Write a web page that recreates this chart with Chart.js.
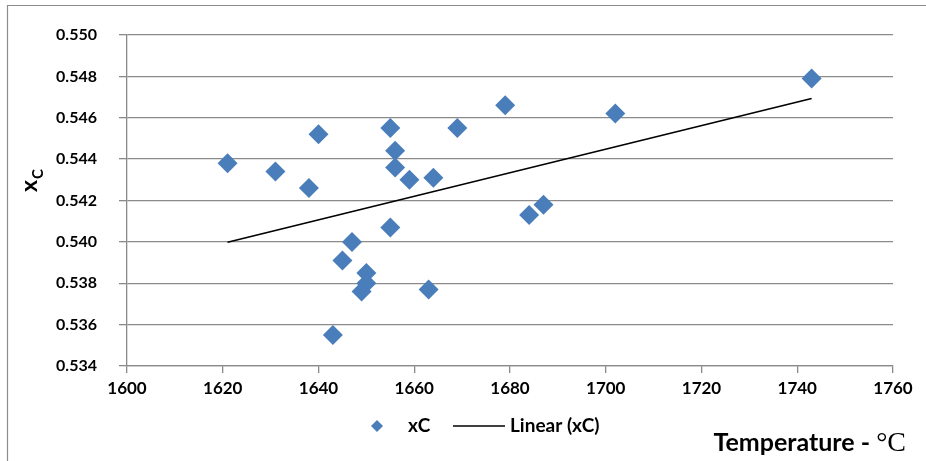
<!DOCTYPE html>
<html>
<head>
<meta charset="utf-8">
<script src="https://cdn.jsdelivr.net/npm/chart.js@4.4.1/dist/chart.umd.min.js"></script>
<style>
  html, body { margin: 0; padding: 0; background: #fff; }
  #wrap { position: relative; width: 926px; height: 461px; }
</style>
</head>
<body>
<div id="wrap"><canvas id="chart" width="926" height="461"></canvas></div>
<script>
const temperatures = [1621, 1631, 1638, 1640, 1643, 1645, 1647, 1649, 1650, 1650, 1655, 1655,
  1656, 1656, 1659, 1663, 1664, 1669, 1679, 1684, 1687, 1702, 1743];
const xcValues = [0.5438, 0.5434, 0.5426, 0.5452, 0.5355, 0.5391, 0.5400, 0.5376, 0.5385, 0.5380, 0.5455, 0.5407,
  0.5444, 0.5436, 0.5430, 0.5377, 0.5431, 0.5455, 0.5466, 0.5413, 0.5418, 0.5462, 0.5479];
const xTicks = [1600, 1620, 1640, 1660, 1680, 1700, 1720, 1740, 1760];
const yTicks = [0.534, 0.536, 0.538, 0.540, 0.542, 0.544, 0.546, 0.548, 0.550];

const BLUE = '#4a7ebb';
const GRID = '#8a8a8a';
const SANS = 'Lato, "Open Sans", sans-serif';
const SERIF = '"Liberation Serif", "DejaVu Serif", serif';

// least squares fit, drawn between the lowest and highest temperature
function linearFit(xs, ys) {
  const n = xs.length;
  const mx = xs.reduce((a, b) => a + b, 0) / n;
  const my = ys.reduce((a, b) => a + b, 0) / n;
  let sxy = 0, sxx = 0;
  for (let i = 0; i < n; i++) {
    sxy += (xs[i] - mx) * (ys[i] - my);
    sxx += (xs[i] - mx) * (xs[i] - mx);
  }
  const slope = sxy / sxx;
  return (x) => my + slope * (x - mx);
}

const fit = linearFit(temperatures, xcValues);
const tMin = Math.min(...temperatures);
const tMax = Math.max(...temperatures);

const decorations = {
  id: 'decorations',
  afterDraw(chart) {
    const ctx = chart.ctx;
    ctx.save();

    // outer frame (top and left edges only are in view)
    ctx.strokeStyle = '#8c8c8c';
    ctx.lineWidth = 1.2;
    ctx.beginPath();
    ctx.moveTo(7.5, 470);
    ctx.lineTo(7.5, 5.5);
    ctx.lineTo(930, 5.5);
    ctx.stroke();

    // y axis title: x with subscript C
    ctx.fillStyle = '#000';
    ctx.translate(37, 192);
    ctx.rotate(-Math.PI / 2);
    ctx.textBaseline = 'alphabetic';
    ctx.textAlign = 'left';
    ctx.font = `bold 23px ${SANS}`;
    ctx.fillText('x', 0, 0);
    const xw = ctx.measureText('x').width;
    ctx.font = `bold 15px ${SANS}`;
    ctx.fillText('C', xw + 1, 6);
    ctx.setTransform(1, 0, 0, 1, 0, 0);

    // x axis title at the bottom right
    ctx.textBaseline = 'alphabetic';
    ctx.textAlign = 'left';
    ctx.font = `28px ${SERIF}`;
    const unit = '\u00b0C';
    const uw = ctx.measureText(unit).width;
    ctx.font = `bold 25px ${SANS}`;
    const label = 'Temperature - ';
    const lw = ctx.measureText(label).width;
    const right = 906;
    ctx.fillText(label, right - uw - lw, 451);
    ctx.font = `28px ${SERIF}`;
    ctx.fillText(unit, right - uw, 451);

    // legend
    const ly = 426;
    ctx.fillStyle = BLUE;
    ctx.beginPath();
    ctx.moveTo(377, ly - 6);
    ctx.lineTo(383, ly);
    ctx.lineTo(377, ly + 6);
    ctx.lineTo(371, ly);
    ctx.closePath();
    ctx.fill();
    ctx.fillStyle = '#000';
    ctx.font = `bold 19px ${SANS}`;
    ctx.textBaseline = 'middle';
    ctx.fillText('xC', 408, ly);
    ctx.strokeStyle = '#000';
    ctx.lineWidth = 1.5;
    ctx.beginPath();
    ctx.moveTo(453, ly);
    ctx.lineTo(505, ly);
    ctx.stroke();
    ctx.fillText('Linear (xC)', 510, ly);

    ctx.restore();
  }
};

new Chart(document.getElementById('chart'), {
  type: 'scatter',
  data: {
    datasets: [
      {
        label: 'xC',
        data: temperatures.map((t, i) => ({ x: t, y: xcValues[i] })),
        pointStyle: 'rectRot',
        pointRadius: 10,
        pointHoverRadius: 10,
        backgroundColor: BLUE,
        borderColor: BLUE,
        borderWidth: 0,
        order: 2,
      },
      {
        type: 'line',
        label: 'Linear (xC)',
        data: [{ x: tMin, y: fit(tMin) }, { x: tMax, y: fit(tMax) }],
        borderColor: '#000',
        borderWidth: 1.6,
        pointRadius: 0,
        fill: false,
        order: 1,
      },
    ],
  },
  options: {
    responsive: false,
    animation: false,
    layout: { padding: { left: 0, right: 33, top: 35, bottom: 0 } },
    plugins: {
      legend: { display: false },
      tooltip: { enabled: false },
    },
    scales: {
      x: {
        type: 'linear',
        min: 1600,
        max: 1760,
        afterBuildTicks: (scale) => { scale.ticks = xTicks.map((v) => ({ value: v })); },
        afterFit: (scale) => { scale.height = 95; },
        border: { color: GRID, width: 1.3 },
        grid: { drawOnChartArea: false, color: GRID, tickLength: 7, lineWidth: 1.3 },
        ticks: {
          color: '#000',
          font: { family: SANS, size: 17, weight: 'bold' },
          padding: 5,
          maxRotation: 0,
          callback: (v) => String(v),
        },
      },
      y: {
        min: 0.534,
        max: 0.55,
        afterBuildTicks: (scale) => { scale.ticks = yTicks.map((v) => ({ value: v })); },
        afterFit: (scale) => { scale.width = 127; },
        border: { color: GRID, width: 1.3 },
        grid: { color: GRID, tickLength: 8, lineWidth: 1.3 },
        ticks: {
          color: '#000',
          font: { family: SANS, size: 16, weight: 'bold' },
          padding: 22,
          callback: (v) => v.toFixed(3),
        },
      },
    },
  },
  plugins: [decorations],
});
</script>
</body>
</html>
